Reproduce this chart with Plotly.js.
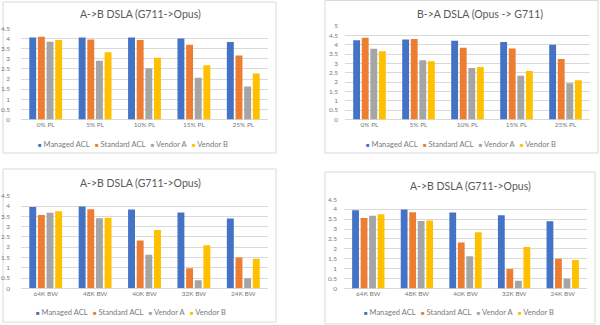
<!DOCTYPE html>
<html>
<head>
<meta charset="utf-8">
<script src="https://cdn.plot.ly/plotly-3.0.1.min.js"></script>
<style>html,body{margin:0;padding:0;background:#fff;}#chart{width:600px;height:325px;}</style>
</head>
<body>
<div id="chart"></div>
<script>
// ---- Data ----
const categoriesPL = ['0% PL', '5% PL', '10% PL', '15% PL', '25% PL'];
const categoriesBW = ['64K BW', '48K BW', '40K BW', '32K BW', '24K BW'];
const seriesNames = ['Managed ACL', 'Standard ACL', 'Vendor A', 'Vendor B'];
const seriesColors = ['#4472C4', '#ED7D31', '#A5A5A5', '#FFC000'];

const titleAB = 'A->B DSLA (G711->Opus)';
const titleBA = 'B->A DSLA (Opus -> G711)';

// A->B, packet loss
const abPL_managed  = [4.06, 4.06, 4.06, 4.01, 3.83];
const abPL_standard = [4.09, 3.96, 3.93, 3.70, 3.16];
const abPL_vendorA  = [3.85, 2.90, 2.53, 2.06, 1.63];
const abPL_vendorB  = [3.93, 3.33, 3.05, 2.68, 2.27];

// B->A, packet loss
const baPL_managed  = [4.24, 4.28, 4.21, 4.15, 3.99];
const baPL_standard = [4.37, 4.30, 3.83, 3.79, 3.24];
const baPL_vendorA  = [3.78, 3.17, 2.75, 2.34, 1.94];
const baPL_vendorB  = [3.65, 3.11, 2.81, 2.59, 2.10];

// A->B, bandwidth
const abBW_managed  = [3.95, 3.98, 3.83, 3.69, 3.39];
const abBW_standard = [3.56, 3.85, 2.32, 0.98, 1.50];
const abBW_vendorA  = [3.67, 3.41, 1.63, 0.39, 0.49];
const abBW_vendorB  = [3.75, 3.43, 2.84, 2.09, 1.44];

// ---- Layout helpers (pixel -> paper) ----
const W = 600, H = 325;
const px = v => v / W;
const py = v => 1 - v / H;

const FONT = 'Lato, "Open Sans", sans-serif';
const TXT = '#595959';
const TICK = '#7a7a7a';
const GRID = '#d9d9d9';

const panels = [
  { ax: '',  cats: categoriesPL, series: [abPL_managed, abPL_standard, abPL_vendorA, abPL_vendorB],
    title: titleAB, xdom: [21, 268], ydom: [119.5, 28.5], ymax: 4.5, standoff: 10,
    box: [3, 2, 276, 153], titlePos: [140, 14], legendPos: [133, 144] },
  { ax: '2', cats: categoriesPL, series: [baPL_managed, baPL_standard, baPL_vendorA, baPL_vendorB],
    title: titleBA, xdom: [345, 590], ydom: [119.4, 26], ymax: 5, standoff: 6,
    box: [325, 0.5, 598, 153], titlePos: [480, 14], legendPos: [461, 144] },
  { ax: '3', cats: categoriesBW, series: [abBW_managed, abBW_standard, abBW_vendorA, abBW_vendorB],
    title: titleAB, xdom: [21, 268], ydom: [288.3, 195.8], ymax: 4.5, standoff: 10,
    box: [3, 169, 276, 322], titlePos: [140, 182.5], legendPos: [131, 312] },
  { ax: '4', cats: categoriesBW, series: [abBW_managed, abBW_standard, abBW_vendorA, abBW_vendorB],
    title: titleAB, xdom: [344, 587], ydom: [288.5, 199.3], ymax: 4.5, standoff: 6,
    box: [325, 172, 595, 324], titlePos: [470, 186], legendPos: [459, 312] }
];

const traces = [];
const layout = {
  width: W, height: H,
  margin: { l: 0, r: 0, t: 0, b: 0 },
  paper_bgcolor: '#ffffff',
  plot_bgcolor: '#ffffff',
  showlegend: false,
  barmode: 'group',
  bargap: 0.3,
  bargroupgap: 0.2,
  font: { family: FONT, color: TXT },
  shapes: [],
  annotations: []
};

panels.forEach(p => {
  p.series.forEach((vals, i) => {
    traces.push({
      type: 'bar',
      name: seriesNames[i],
      x: p.cats,
      y: vals,
      xaxis: 'x' + p.ax,
      yaxis: 'y' + p.ax,
      marker: { color: seriesColors[i], line: { width: 0 } },
      hoverinfo: 'x+y+name'
    });
  });

  layout['xaxis' + p.ax] = {
    domain: [px(p.xdom[0]), px(p.xdom[1])],
    anchor: 'y' + p.ax,
    type: 'category',
    showgrid: false, zeroline: false, showline: false,
    ticks: '', tickfont: { size: 6.5, color: TICK, family: FONT },
    fixedrange: true
  };
  layout['yaxis' + p.ax] = {
    domain: [py(p.ydom[0]), py(p.ydom[1])],
    anchor: 'x' + p.ax,
    range: [0, p.ymax],
    dtick: 0.5,
    showgrid: true, gridcolor: GRID, gridwidth: 1,
    zeroline: true, zerolinecolor: GRID, zerolinewidth: 1,
    showline: false, ticks: '',
    ticklabelstandoff: p.standoff,
    tickfont: { size: 6.5, color: TICK, family: FONT },
    fixedrange: true
  };

  layout.shapes.push({
    type: 'rect', xref: 'paper', yref: 'paper',
    x0: px(p.box[0]), x1: px(p.box[2]), y0: py(p.box[3]), y1: py(p.box[1]),
    line: { color: GRID, width: 1 }, fillcolor: 'rgba(0,0,0,0)', layer: 'below'
  });

  layout.annotations.push({
    xref: 'paper', yref: 'paper',
    x: px(p.titlePos[0]), y: py(p.titlePos[1]),
    xanchor: 'center', yanchor: 'middle', showarrow: false,
    text: p.title, font: { family: FONT, size: 10.5, color: TXT }
  });

  layout.annotations.push({
    xref: 'paper', yref: 'paper',
    x: px(p.legendPos[0]), y: py(p.legendPos[1]),
    xanchor: 'center', yanchor: 'middle', showarrow: false,
    text: seriesNames.map((n, i) =>
      '<span style="color:' + seriesColors[i] + ';font-size:6px">■</span> ' + n).join('   '),
    font: { family: FONT, size: 7.5, color: TICK }
  });
});

Plotly.newPlot('chart', traces, layout, { displayModeBar: false, staticPlot: true });
</script>
</body>
</html>
